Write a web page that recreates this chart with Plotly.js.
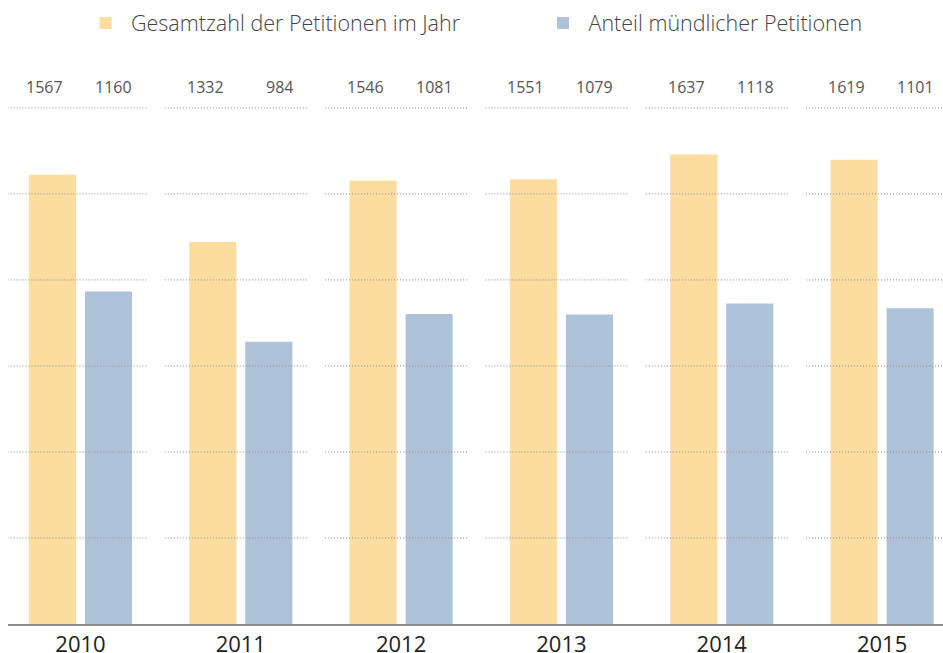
<!DOCTYPE html>
<html>
<head>
<meta charset="utf-8">
<script src="https://cdn.plot.ly/plotly-3.0.1.min.js"></script>
<style>html,body{margin:0;padding:0;background:#fff;}#chart{width:943px;height:653px;}</style>
</head>
<body>
<div id="chart"></div>
<script>
var years = ['2010', '2011', '2012', '2013', '2014', '2015'];
var total = [1567, 1332, 1546, 1551, 1637, 1619];
var oral = [1160, 984, 1081, 1079, 1118, 1101];
var seriesNames = ['Gesamtzahl der Petitionen im Jahr', 'Anteil mündlicher Petitionen'];
var gridValues = [300, 600, 900, 1200, 1500, 1800];

var colTotal = '#FDDCA0';
var colOral = '#AEC3DA';
var fontFam = '"Open Sans", "Noto Sans", sans-serif';

var traces = [
  {type: 'bar', x: years, y: total, name: seriesNames[0], marker: {color: colTotal}, hoverinfo: 'x+y', legendwidth: 401.5},
  {type: 'bar', x: years, y: oral, name: seriesNames[1], marker: {color: colOral}, hoverinfo: 'x+y'}
];

var shapes = [];
years.forEach(function (yr, i) {
  gridValues.forEach(function (g) {
    shapes.push({type: 'line', xref: 'x', yref: 'y', x0: i - 0.474, x1: i + 0.418, y0: g, y1: g,
      layer: 'above', line: {color: '#8a8a8a', width: 1, dash: '1px,2px'}});
  });
});

var annotations = [];
years.forEach(function (yr, i) {
  annotations.push({x: i, xref: 'x', y: 1.0347, yref: 'paper', text: String(total[i]), showarrow: false,
    xanchor: 'left', yanchor: 'middle', xshift: -56, font: {family: fontFam, size: 16, color: '#555'}});
  annotations.push({x: i, xref: 'x', y: 1.0347, yref: 'paper', text: String(oral[i]), showarrow: false,
    xanchor: 'right', yanchor: 'middle', xshift: 54, font: {family: fontFam, size: 16, color: '#555'}});
});

var layout = {
  width: 943, height: 653,
  margin: {l: 8, r: 0, t: 105, b: 29, pad: 0, autoexpand: false},
  paper_bgcolor: '#fff', plot_bgcolor: '#fff',
  font: {family: fontFam, color: '#222'},
  barmode: 'group', bargap: 0.301, bargroupgap: 0.16,
  showlegend: true,
  legend: {orientation: 'h', x: 0.0770, xanchor: 'left', y: 1.158, yanchor: 'middle', itemwidth: 41,
    font: {family: fontFam, size: 21.5, weight: 300, color: '#444'},
    bgcolor: 'rgba(0,0,0,0)'},
  xaxis: {type: 'category', range: [-0.452, 5.38], showgrid: false, zeroline: false,
    showline: true, linecolor: '#8c8c8c', linewidth: 1.5, ticks: '',
    tickfont: {family: fontFam, size: 22, color: '#222'}, fixedrange: true},
  yaxis: {range: [0, 1810], showgrid: false, zeroline: false, showline: false, showticklabels: false,
    ticks: '', fixedrange: true},
  shapes: shapes,
  annotations: annotations
};

Plotly.newPlot('chart', traces, layout, {displayModeBar: false, staticPlot: true});
</script>
</body>
</html>
